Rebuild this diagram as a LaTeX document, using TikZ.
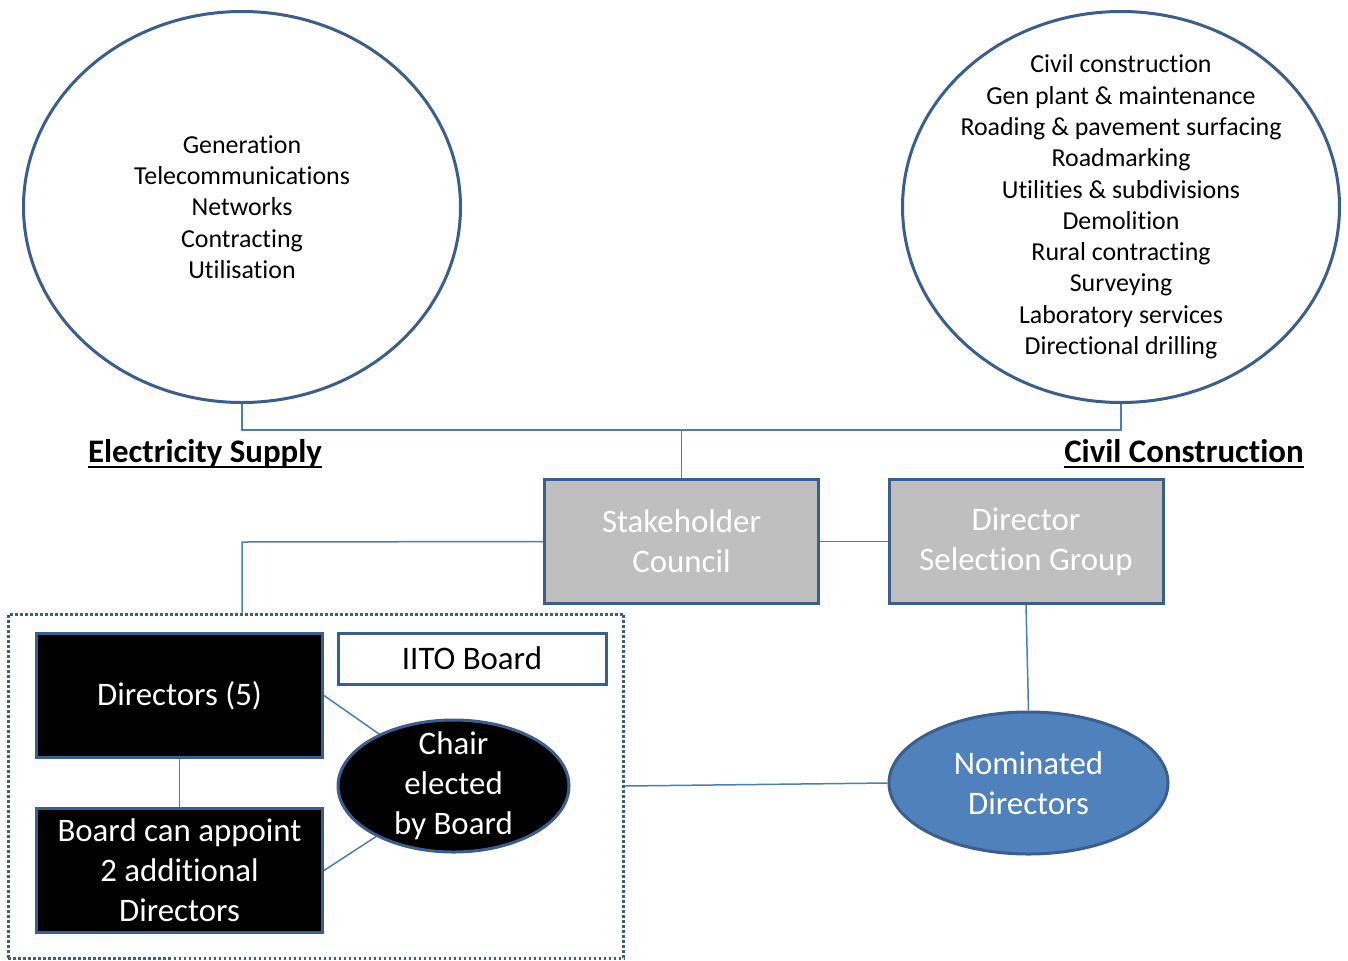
\documentclass[tikz,border=0pt]{standalone}
\usepackage{fontspec}
\setmainfont{Carlito}[Ligatures=NoCommon]
\usetikzlibrary{shapes.geometric,backgrounds}
\definecolor{bord}{HTML}{3A5F8E}
\definecolor{conn}{HTML}{4A7EBB}
\definecolor{grayfill}{HTML}{BFBFBF}
\definecolor{nomfill}{HTML}{4F81BD}
\tikzset{
  smalltext/.style={font=\fontsize{26}{31.4}\selectfont, align=center},
  bigtext/.style={font=\fontsize{33}{40}\selectfont, align=center},
  bigcircle/.style={ellipse, draw=bord, line width=3bp, fill=white, minimum width=437bp, minimum height=391bp, inner sep=0pt},
  graybox/.style={rectangle, draw=bord, line width=3bp, fill=grayfill, minimum width=274bp, minimum height=124bp, inner sep=0pt, bigtext, text=white},
  blackbox/.style={rectangle, draw=bord, line width=3bp, fill=black, minimum width=286bp, minimum height=124bp, inner sep=0pt, bigtext, text=white},
  conn/.style={draw=conn, line width=1.5bp},
  heading/.style={font=\fontsize{33}{40}\selectfont\bfseries, inner sep=0pt, anchor=base},
  uline/.style={line width=2.6bp, black}
}
\begin{document}
\begin{tikzpicture}[x=1bp, y=-1bp]
\useasboundingbox (0,0) rectangle (1348,960);
% ellipses
\node[bigcircle] (elec) at (242,207) {};
\node[smalltext] (electext) at (elec.center) {Generation\\Telecommunications\\Networks\\Contracting\\Utilisation};
\node[bigcircle] (civil) at (1121,207) {};
\node[smalltext] (civiltext) at (civil.center) {Civil construction\\Gen plant \& maintenance\\Roading \& pavement surfacing\\Roadmarking\\Utilities \& subdivisions\\Demolition\\Rural contracting\\Surveying\\Laboratory services\\Directional drilling};
% headings
\node[heading] (elabel) at (205,462) {Electricity Supply};
\node[heading] (clabel) at (1184,462) {Civil Construction};
\draw[uline] ([yshift=-5bp]elabel.base west) -- ([yshift=-5bp]elabel.base east);
\draw[uline] ([yshift=-5bp]clabel.base west) -- ([yshift=-5bp]clabel.base east);
% gray boxes
\node[graybox] (stake) at (681.5,541.5) {Stakeholder\\Council};
\node[graybox] (dsg) at (1026,541.5) {Director\\Selection Group};
% dotted frame
\node[rectangle, draw=bord, line width=3bp, dash pattern=on 2.6bp off 2.4bp, minimum width=615bp, minimum height=344bp, inner sep=0pt] (frame) at (316,786) {};
% board
\node[blackbox] (dirs) at (179.5,695.5) {Directors (5)};
\node[blackbox] (appoint) at (179.5,870.5) {Board can appoint\\2 additional\\Directors};
\node[rectangle, draw=bord, line width=3bp, fill=white, minimum width=268bp, minimum height=51bp, inner sep=0pt, bigtext] (iito) at (472,658.5) {IITO Board};
\node[ellipse, draw=bord, line width=3bp, fill=black, minimum width=231bp, minimum height=132bp, inner sep=0pt] (chair) at (453.5,786) {};
\node[bigtext, text=white] (chairtext) at (chair.center) {Chair\\elected\\by Board};
% nominated
\node[ellipse, draw=bord, line width=3bp, fill=nomfill, minimum width=279bp, minimum height=142bp, inner sep=0pt] (nom) at (1028.5,783) {};
\node[bigtext, text=white] (nomtext) at (nom.center) {Nominated\\Directors};
\coordinate (tjoin) at (681.5,430);
\coordinate (ljoin) at (242,542);
\begin{scope}[on background layer]
\draw[conn] (elec.south) |- (tjoin) -| (civil.south);
\draw[conn] (tjoin) -- (stake.north);
\draw[conn] (stake.east) -- (dsg.west);
\draw[conn] (stake.west) -- (ljoin) -- (ljoin |- frame.north);
\draw[conn] (dirs.south) -- (appoint.north);
\draw[conn] (dirs.east) -- (chair.center);
\draw[conn] (appoint.east) -- (chair.center);
\draw[conn] (frame.east) -- (nom.west);
\draw[conn] (dsg.south) -- (nom.north);
\end{scope}
\end{tikzpicture}
\end{document}
